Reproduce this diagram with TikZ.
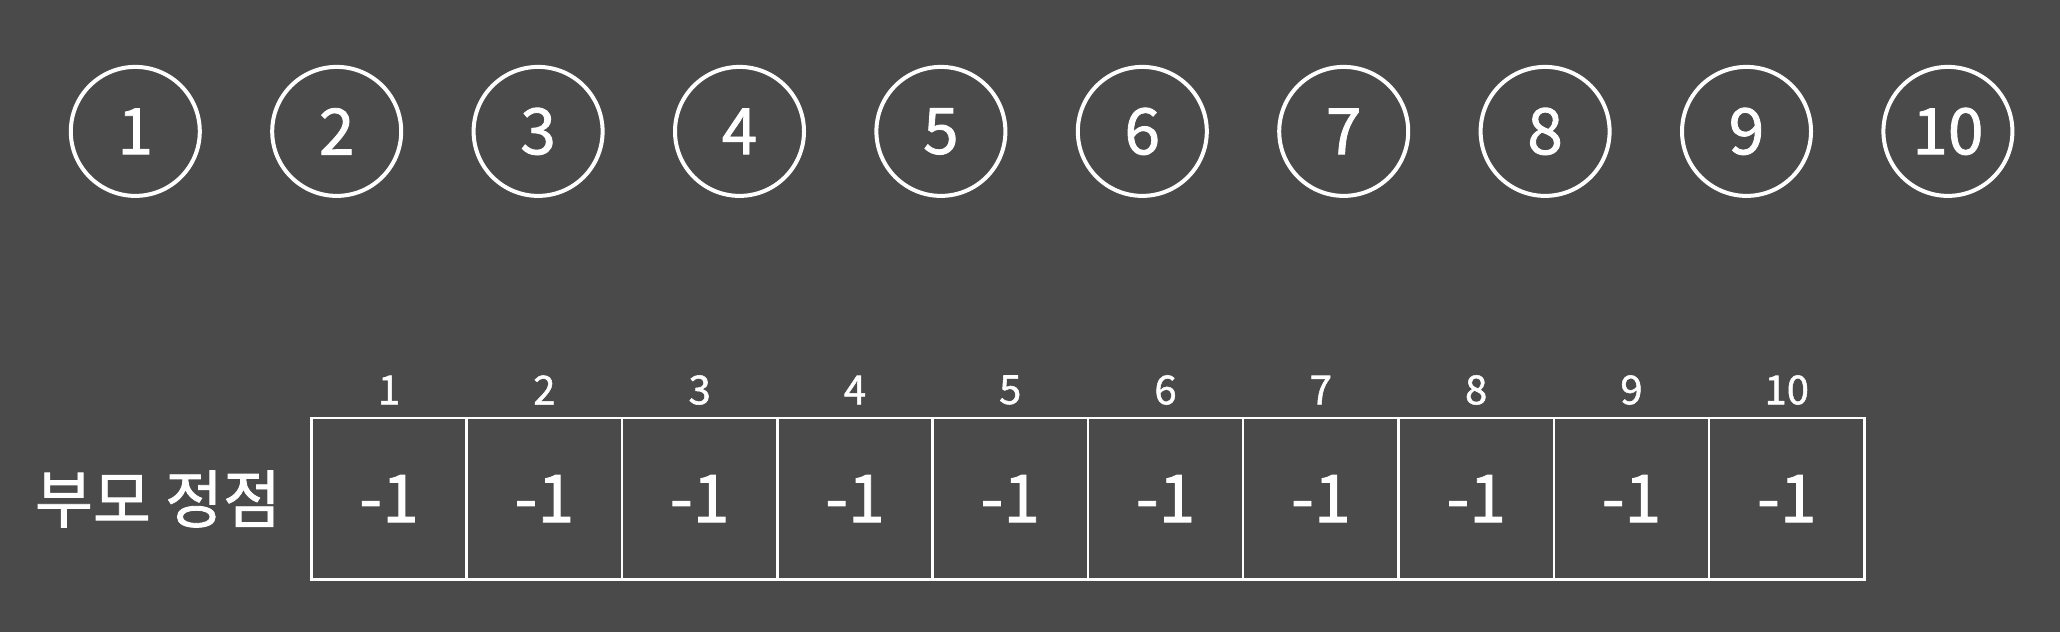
\documentclass[tikz,border=0pt]{standalone}
\usepackage{fontspec}
\setmainfont{Noto Sans CJK KR}
\newfontfamily\medfont{Noto Sans CJK KR}[FakeBold=1.3]
\definecolor{bg}{HTML}{4B4A4B}
\begin{document}
\begin{tikzpicture}[x=1pt,y=-1pt,
  vtx/.style={circle,draw=white,line width=4pt,minimum size=129pt,inner sep=0pt,text=white,font=\medfont\fontsize{64}{64}\selectfont},
  cell/.style={rectangle,draw=white,line width=2.5pt,minimum width=155.3pt,minimum height=161.6pt,inner sep=0pt,text=white,font=\medfont\fontsize{66}{66}\selectfont},
  idx/.style={text=white,inner sep=0pt,font=\medfont\fontsize{40}{40}\selectfont},
  lbl/.style={text=white,inner sep=0pt,font=\medfont\fontsize{63}{63}\selectfont}]
\fill[bg] (0,0) rectangle (2060,632);
\useasboundingbox (0,0) rectangle (2060,632);
\foreach \i in {1,...,10}{
  \node[vtx] (v\i) at ({135.3+201.4*(\i-1)},131.4) {\i};
  \node[cell] (c\i) at ({311.4+155.3*(\i-0.5)},498.6) {-1};
  \node[idx] (n\i) at ({311.4+155.3*(\i-0.5)},390) {\i};
}
\node[lbl] (label) at (158,499) {부모 정점};
\end{tikzpicture}
\end{document}
